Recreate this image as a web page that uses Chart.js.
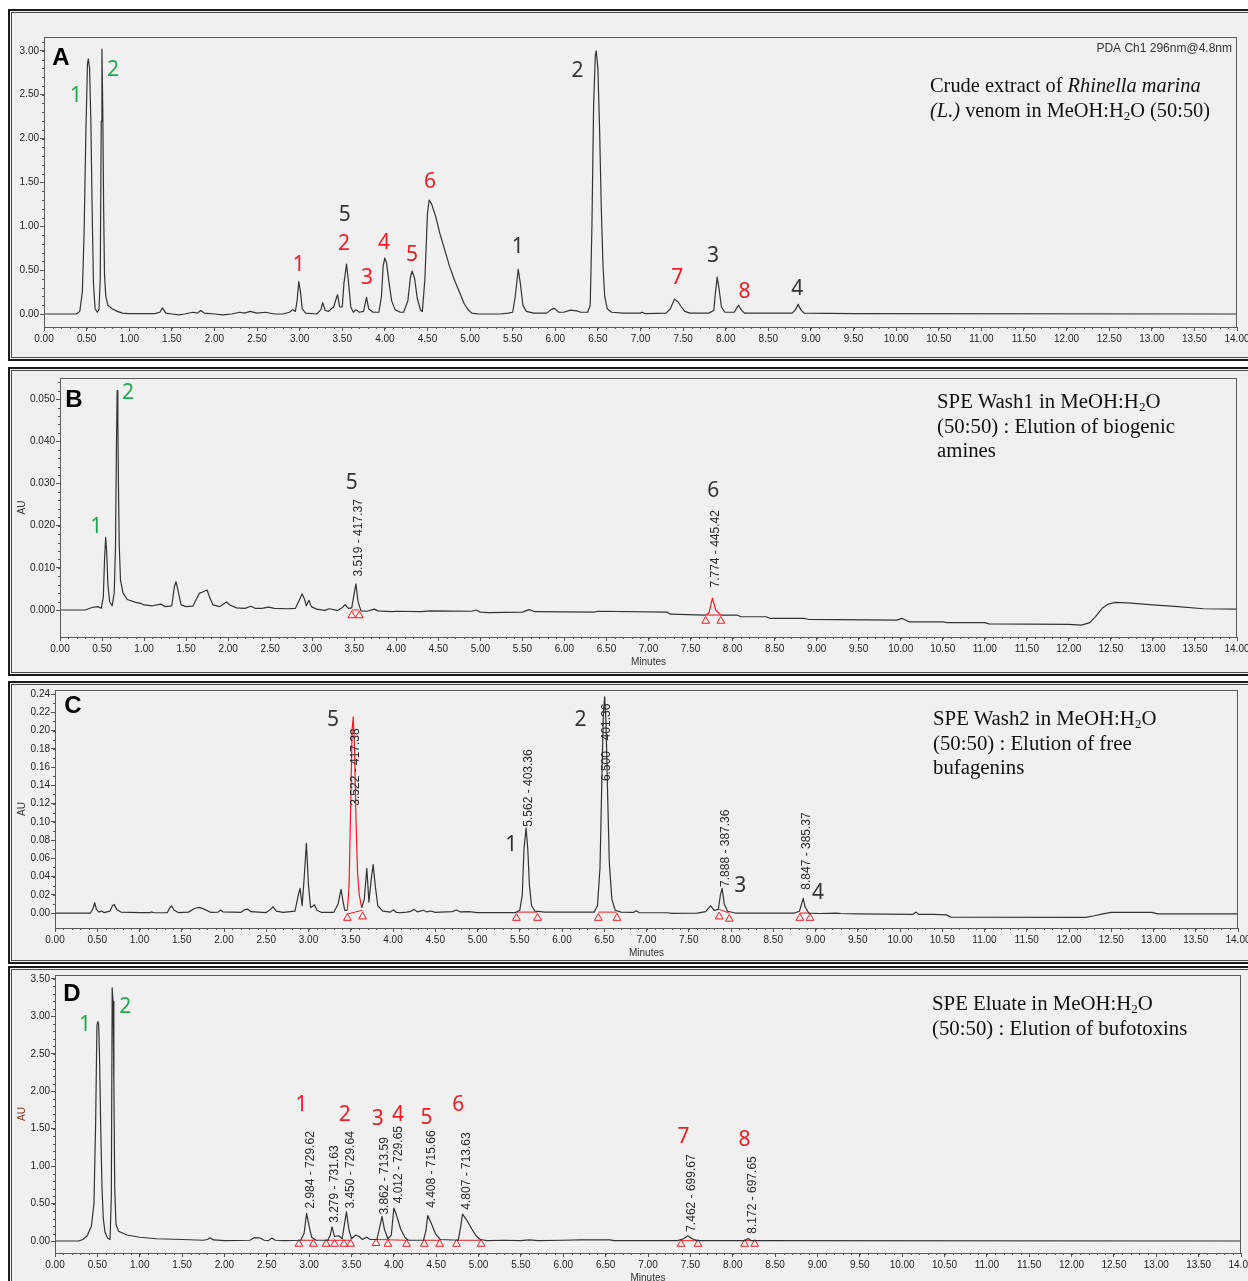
<!DOCTYPE html>
<html>
<head>
<meta charset="utf-8">
<script src="https://cdn.jsdelivr.net/npm/chart.js@4.4.1/dist/chart.umd.min.js"></script>
<style>
  body { margin: 0; background: #fff; width: 1248px; height: 1281px; overflow: hidden; position: relative; }
  .panel { position: absolute; left: 8px; width: 1252px; background: #f0f0f0; border: 2px solid #1a1a1a;
           box-shadow: inset 0 0 0 1px #f0f0f0, inset 0 0 0 2px #4a4a4a; box-sizing: border-box; }
  canvas { position: absolute; left: 0; }
  .note { position: absolute; font-family: 'Liberation Serif', 'Times New Roman', serif; font-size: 20.8px;
          line-height: 24.5px; color: #111; white-space: nowrap; }
  .note sub { font-size: 13px; vertical-align: -3px; line-height: 0; }
</style>
</head>
<body>
<div class="panel" style="top:9px;height:352px"></div>
<div class="panel" style="top:367px;height:309px"></div>
<div class="panel" style="top:681px;height:283px"></div>
<div class="panel" style="top:966px;height:330px"></div>

<canvas id="chA" width="1248" height="362" style="top:0"></canvas>
<canvas id="chB" width="1248" height="312" style="top:365px"></canvas>
<canvas id="chC" width="1248" height="284" style="top:680px"></canvas>
<canvas id="chD" width="1248" height="316" style="top:965px"></canvas>

<div class="note" style="left:930px;top:73px;font-size:20.4px">Crude extract of <i>Rhinella marina</i><br><i>(L.)</i> venom in MeOH:H<sub>2</sub>O (50:50)</div>
<div class="note" style="left:937px;top:389px">SPE Wash1 in MeOH:H<sub>2</sub>O<br>(50:50) : Elution of biogenic<br>amines</div>
<div class="note" style="left:933px;top:706px">SPE Wash2 in MeOH:H<sub>2</sub>O<br>(50:50) : Elution of free<br>bufagenins</div>
<div class="note" style="left:932px;top:991px">SPE Eluate in MeOH:H<sub>2</sub>O<br>(50:50) : Elution of bufotoxins</div>

<script>
// ---- colours / fonts ----
const RED = '#ee1c24', GREEN = '#1fa84f', INK = '#333';
const SANS = "'Liberation Sans', Arial, sans-serif";
const TAG_FONT = "21px 'Noto Sans', 'Open Sans', sans-serif";

// ---- tick labels ----
const xTickLabels = ['0.00','0.50','1.00','1.50','2.00','2.50','3.00','3.50','4.00','4.50','5.00','5.50','6.00','6.50',
  '7.00','7.50','8.00','8.50','9.00','9.50','10.00','10.50','11.00','11.50','12.00','12.50','13.00','13.50','14.00'];
const yTicksA = ['0.00','0.50','1.00','1.50','2.00','2.50','3.00'];
const yTicksB = ['0.000','0.010','0.020','0.030','0.040','0.050'];
const yTicksC = ['0.00','0.02','0.04','0.06','0.08','0.10','0.12','0.14','0.16','0.18','0.20','0.22','0.24'];
const yTicksD = ['0.00','0.50','1.00','1.50','2.00','2.50','3.00','3.50'];

// ---- traces: [minutes, AU] ----
const traceA = [[0,0],[0.38,0],[0.42,0.03],[0.45,0.25],[0.47,0.9],[0.49,2.0],[0.51,2.85],[0.52,2.91],[0.535,2.8],[0.55,2.2],
  [0.565,1.2],[0.58,0.35],[0.6,0.06],[0.625,0.02],[0.645,0.05],[0.66,0.4],[0.672,2.2],[0.68,3.02],[0.69,2.3],[0.7,1.2],
  [0.71,0.45],[0.725,0.2],[0.75,0.1],[0.8,0.06],[0.86,0.03],[0.92,0.01],[1,0.005],[1.3,0.005],[1.36,0.02],[1.39,0.07],
  [1.43,0.01],[1.5,0],[1.58,-0.01],[1.65,0],[1.75,0.02],[1.8,0.01],[1.84,0.04],[1.88,0.01],[2,0],[2.1,-0.01],[2.2,0],
  [2.3,0.02],[2.35,0.01],[2.42,0.03],[2.5,0.01],[2.6,0.02],[2.7,0],[2.8,0],[2.88,0.02],[2.92,0.05],[2.95,0.03],[2.97,0.15],
  [2.99,0.37],[3.01,0.25],[3.03,0.06],[3.07,0.01],[3.2,0],[3.25,0.05],[3.27,0.13],[3.3,0.04],[3.34,0.03],[3.37,0.06],
  [3.4,0.08],[3.43,0.18],[3.445,0.22],[3.47,0.08],[3.5,0.08],[3.52,0.35],[3.55,0.57],[3.575,0.35],[3.6,0.08],[3.63,0.02],
  [3.66,0.05],[3.7,0.02],[3.75,0.03],[3.785,0.19],[3.81,0.06],[3.86,0.02],[3.93,0.02],[3.96,0.2],[3.98,0.55],[4,0.64],
  [4.02,0.58],[4.05,0.35],[4.08,0.15],[4.12,0.05],[4.18,0.02],[4.22,0.02],[4.27,0.15],[4.3,0.42],[4.32,0.49],[4.35,0.4],
  [4.38,0.18],[4.42,0.04],[4.44,0.03],[4.47,0.4],[4.5,1.15],[4.52,1.3],[4.55,1.25],[4.6,1.1],[4.645,0.92],[4.7,0.74],
  [4.76,0.54],[4.82,0.38],[4.88,0.24],[4.93,0.12],[4.98,0.045],[5.02,0.01],[5.1,0],[5.35,0],[5.45,0.01],[5.5,0.02],
  [5.53,0.2],[5.565,0.51],[5.59,0.35],[5.62,0.1],[5.66,0.03],[5.75,0.01],[5.9,0.01],[5.95,0.05],[5.99,0.065],[6.04,0.02],
  [6.1,0.02],[6.18,0.045],[6.25,0.035],[6.3,0.02],[6.38,0.02],[6.41,0.1],[6.43,1.0],[6.45,2.4],[6.47,2.95],[6.48,3.0],
  [6.5,2.8],[6.52,2.1],[6.54,1.2],[6.56,0.55],[6.58,0.2],[6.61,0.06],[6.66,0.02],[6.8,0.01],[7,0.01],[7.02,0.02],
  [7.05,0.005],[7.3,0.01],[7.35,0.06],[7.4,0.17],[7.44,0.14],[7.48,0.08],[7.52,0.03],[7.58,0.01],[7.8,0.01],[7.86,0.04],
  [7.88,0.25],[7.9,0.42],[7.92,0.3],[7.95,0.08],[7.99,0.02],[8.1,0.02],[8.13,0.07],[8.15,0.1],[8.18,0.05],[8.22,0.01],
  [8.78,0.01],[8.82,0.05],[8.85,0.11],[8.88,0.05],[8.92,0.01],[9.5,0.005],[14,0]];

const traceB = [[0,0],[0.3,0],[0.38,0.0006],[0.45,0.0008],[0.49,0.0004],[0.515,0.003],[0.53,0.012],[0.543,0.0172],
  [0.555,0.014],[0.57,0.006],[0.59,0.002],[0.62,0.001],[0.645,0.004],[0.66,0.015],[0.672,0.04],[0.68,0.052],[0.688,0.045],
  [0.695,0.03],[0.705,0.015],[0.72,0.007],[0.75,0.004],[0.8,0.0025],[0.9,0.0018],[0.97,0.0015],[1,0.0012],[1.1,0.001],
  [1.2,0.0014],[1.25,0.0008],[1.33,0.001],[1.36,0.0055],[1.38,0.0067],[1.4,0.005],[1.44,0.0012],[1.5,0.0008],[1.58,0.0009],
  [1.62,0.0025],[1.66,0.004],[1.69,0.0042],[1.72,0.0045],[1.75,0.0047],[1.78,0.003],[1.82,0.0012],[1.9,0.0008],
  [1.95,0.0015],[1.98,0.0019],[2.02,0.0012],[2.1,0.0005],[2.2,0.0004],[2.27,0.0009],[2.32,0.0004],[2.4,0.0004],
  [2.48,0.0007],[2.55,0.0004],[2.7,0.0003],[2.8,0.0004],[2.85,0.0025],[2.88,0.0038],[2.91,0.0025],[2.93,0.001],
  [2.96,0.0023],[2.99,0.0008],[3.05,0.0002],[3.15,-0.0001],[3.2,0.0003],[3.3,-0.0001],[3.36,0.0006],[3.39,0.0013],
  [3.43,0.0004],[3.47,0.0005],[3.5,0.004],[3.52,0.0062],[3.545,0.002],[3.58,-0.0002],[3.65,-0.0003],[3.74,0.0002],
  [3.78,-0.0002],[3.95,-0.0004],[4,-0.0003],[4.3,-0.0004],[4.4,-0.0002],[4.9,-0.0003],[4.95,0],[5,-0.0005],[5.1,-0.0006],
  [5.5,-0.0005],[5.58,0.0001],[5.65,-0.0004],[6.35,-0.0005],[6.4,-0.0003],[7.22,-0.0005],[7.26,-0.001],[7.68,-0.0012],
  [7.72,-0.0007],[7.76,0.0028],[7.8,0],[7.86,-0.0012],[8.05,-0.0012],[8.1,-0.0016],[8.4,-0.0016],[8.45,-0.002],
  [8.85,-0.002],[8.9,-0.0022],[9.95,-0.0024],[10.02,-0.002],[10.1,-0.0028],[10.5,-0.0028],[10.55,-0.003],[11,-0.003],
  [11.05,-0.0033],[12,-0.0034],[12.15,-0.0036],[12.25,-0.003],[12.32,-0.0015],[12.4,0.0005],[12.47,0.0014],[12.55,0.0018],
  [12.7,0.0017],[13,0.0012],[13.3,0.0008],[13.6,0.0003],[14,0.0002]];

const traceC = [[0,0],[0.42,0],[0.45,0.005],[0.47,0.0113],[0.49,0.004],[0.52,0.001],[0.55,0.0022],[0.58,0.0005],
  [0.65,0.002],[0.68,0.008],[0.7,0.0095],[0.73,0.004],[0.78,0.001],[1,0.0005],[1.12,0.0005],[1.14,0.0012],[1.17,0.0003],
  [1.33,0.0005],[1.36,0.006],[1.38,0.0077],[1.41,0.003],[1.46,0.0005],[1.58,0.001],[1.65,0.005],[1.71,0.0062],[1.77,0.004],
  [1.84,0.0008],[1.93,0.001],[1.96,0.0033],[1.99,0.0012],[2.2,0.0008],[2.25,0.0038],[2.28,0.0042],[2.32,0.0015],
  [2.5,0.0005],[2.55,0.004],[2.58,0.0069],[2.62,0.002],[2.7,0.0008],[2.84,0.002],[2.88,0.02],[2.9,0.027],[2.925,0.008],
  [2.95,0.04],[2.975,0.0764],[3,0.03],[3.025,0.006],[3.05,0.0075],[3.07,0.009],[3.1,0.003],[3.15,0.0008],[3.3,0.0008],
  [3.35,0.01],[3.385,0.026],[3.41,0.012],[3.43,0.003],[3.46,0.003],[3.48,0.03],[3.5,0.12],[3.515,0.2],[3.53,0.215],
  [3.545,0.18],[3.56,0.11],[3.58,0.045],[3.6,0.02],[3.63,0.006],[3.66,0.015],[3.69,0.049],[3.715,0.012],[3.74,0.035],
  [3.765,0.053],[3.79,0.03],[3.82,0.008],[3.88,0.002],[3.97,0.001],[4,0.0035],[4.04,0.0008],[4.1,0.0005],[4.16,0.001],
  [4.2,0.0015],[4.25,0.004],[4.29,0.0012],[4.36,0.003],[4.4,0.0012],[4.45,0.0022],[4.5,0.0008],[4.7,0.0015],[4.75,0.0034],
  [4.8,0.0012],[4.9,0.0015],[5,0.0005],[5.45,0.0005],[5.5,0.003],[5.53,0.02],[5.55,0.07],[5.575,0.093],[5.595,0.07],
  [5.615,0.03],[5.64,0.008],[5.68,0.002],[5.8,0.001],[6.38,0.001],[6.42,0.008],[6.45,0.05],[6.47,0.14],[6.49,0.22],
  [6.505,0.237],[6.52,0.21],[6.54,0.13],[6.56,0.055],[6.59,0.015],[6.63,0.003],[6.7,0.001],[6.85,0.0008],[6.88,0.0025],
  [6.91,0.0005],[7.25,0.0003],[7.3,-0.0003],[7.6,0],[7.7,0.0015],[7.76,0.008],[7.8,0.003],[7.85,0.004],[7.875,0.02],
  [7.895,0.027],[7.92,0.01],[7.96,0.002],[8.05,0],[8.75,0],[8.81,0.002],[8.835,0.01],[8.855,0.016],[8.875,0.007],[8.92,0],
  [9.05,-0.0005],[9.25,0],[9.3,-0.0005],[9.5,-0.001],[10.15,-0.0015],[10.19,0.001],[10.22,-0.0015],[10.4,-0.0015],
  [10.55,-0.002],[10.6,-0.0045],[12.2,-0.0047],[12.3,-0.003],[12.4,-0.001],[12.5,0.0008],[12.98,0.0008],[13.05,-0.001],
  [14,-0.001]];

const traceD = [[0,0],[0.28,0],[0.33,0.02],[0.38,0.07],[0.43,0.2],[0.46,0.5],[0.48,1.6],[0.495,2.88],[0.505,2.93],
  [0.515,2.9],[0.525,2.5],[0.54,1.5],[0.555,0.7],[0.57,0.3],[0.59,0.12],[0.62,0.04],[0.65,0.02],[0.665,0.6],[0.675,3.38],
  [0.685,3.2],[0.695,2.1],[0.705,0.7],[0.72,0.22],[0.75,0.13],[0.85,0.08],[1,0.05],[1.2,0.03],[1.5,0.02],[1.75,0.01],
  [1.8,0.02],[1.83,0.045],[1.87,0.015],[2,0.005],[2.3,0.01],[2.35,0.045],[2.42,0.04],[2.47,0.01],[2.52,0.005],[2.56,0.04],
  [2.6,0.01],[2.7,0.005],[2.9,0.01],[2.94,0.1],[2.97,0.37],[3,0.2],[3.03,0.05],[3.08,0.01],[3.22,0.01],[3.25,0.08],
  [3.27,0.19],[3.3,0.06],[3.35,0.07],[3.39,0.03],[3.42,0.25],[3.44,0.39],[3.47,0.15],[3.5,0.03],[3.55,0.08],[3.59,0.06],
  [3.63,0.02],[3.68,0.05],[3.72,0.02],[3.8,0.02],[3.84,0.22],[3.86,0.33],[3.89,0.15],[3.93,0.03],[3.97,0.08],[4,0.44],
  [4.03,0.35],[4.08,0.16],[4.13,0.05],[4.17,0.01],[4.35,0.01],[4.38,0.15],[4.4,0.34],[4.44,0.24],[4.49,0.1],[4.55,0.02],
  [4.76,0.01],[4.79,0.2],[4.81,0.36],[4.86,0.28],[4.92,0.16],[4.97,0.07],[5.02,0.02],[5.1,0.005],[5.3,0.01],[5.5,0.005],
  [5.6,0.015],[5.7,0.005],[6,0.01],[6.2,0.015],[6.45,0.015],[6.55,0.015],[6.6,0.005],[7.35,0.005],[7.42,0.03],[7.47,0.07],
  [7.52,0.03],[7.58,0.005],[8.14,0.005],[8.18,0.035],[8.22,0.005],[14,0]];

// ---- integration marks (red triangles and baselines) ----
const triB = [[3.47,-0.0013],[3.56,-0.0013],[7.68,-0.0026],[7.86,-0.0026]];
const triC = [[3.46,-0.0055],[3.64,-0.004],[5.46,-0.0055],[5.71,-0.0055],[6.43,-0.0055],[6.65,-0.0055],
  [7.86,-0.004],[7.98,-0.0065],[8.815,-0.0055],[8.935,-0.0055]];
const triD = [[2.88,-0.04],[3.05,-0.04],[3.2,-0.04],[3.3,-0.04],[3.41,-0.04],[3.49,-0.04],[3.79,-0.03],[3.93,-0.04],
  [4.15,-0.04],[4.36,-0.04],[4.54,-0.04],[4.74,-0.04],[5.03,-0.04],[7.39,-0.04],[7.59,-0.04],[8.14,-0.04],[8.26,-0.04]];
const intB = [[[3.47,0],[3.56,0]],[[7.68,-0.0012],[7.86,-0.0012]]];
const intC = [[[3.46,-0.001],[3.64,0.003]],[[5.46,0.001],[5.71,0.001]],[[6.43,0.001],[6.65,0.001]],
  [[7.86,0.004],[7.98,0]],[[8.815,0],[8.935,0]]];
const intD = [[[2.88,0.01],[3.05,0.01]],[[3.2,0.01],[3.49,0.01]],[[3.79,0.02],[4.15,0.01]],[[4.36,0.01],[4.54,0.01]],
  [[4.74,0.01],[5.03,0.01]],[[7.39,0.005],[7.59,0.005]],[[8.14,0.005],[8.26,0.005]]];

// ---- peak numbers [min, AU, text, colour] ----
const tagsA = [[0.375,2.49,'1',GREEN],[0.81,2.78,'2',GREEN],[2.99,0.56,'1',RED],[3.53,1.13,'5',INK],[3.52,0.8,'2',RED],
  [3.79,0.41,'3',RED],[3.99,0.81,'4',RED],[4.32,0.67,'5',RED],[4.53,1.51,'6',RED],[5.56,0.76,'1',INK],[6.26,2.77,'2',INK],
  [7.43,0.41,'7',RED],[7.85,0.66,'3',INK],[8.22,0.25,'8',RED],[8.84,0.285,'4',INK]];
const tagsB = [[0.43,0.0197,'1',GREEN],[0.81,0.0514,'2',GREEN],[3.47,0.0301,'5',INK],[7.77,0.0282,'6',INK]];
const tagsC = [[3.29,0.2115,'5',INK],[5.4,0.074,'1',INK],[6.22,0.2115,'2',INK],[8.11,0.0296,'3',INK],[9.03,0.0219,'4',INK]];
const tagsD = [[0.355,2.885,'1',GREEN],[0.83,3.126,'2',GREEN],[2.91,1.816,'1',RED],[3.42,1.68,'2',RED],[3.81,1.63,'3',RED],
  [4.05,1.68,'4',RED],[4.385,1.643,'5',RED],[4.76,1.816,'6',RED],[7.42,1.39,'7',RED],[8.14,1.35,'8',RED]];

// ---- retention time / mass labels (vertical) ----
const rotB = [[3.51,0.0171,'3.519 - 417.37'],[7.755,0.0145,'7.774 - 445.42']];
const rotC = [[3.515,0.16,'3.522 - 417.38'],[5.56,0.137,'5.562 - 403.36'],[6.485,0.187,'6.500 - 401.36'],
  [7.89,0.071,'7.888 - 387.36'],[8.85,0.068,'8.847 - 385.37']];
const rotD = [[2.97,0.95,'2.984 - 729.62'],[3.26,0.76,'3.279 - 731.63'],[3.44,0.95,'3.450 - 729.64'],
  [3.85,0.87,'3.862 - 713.59'],[4.01,1.02,'4.012 - 729.65'],[4.4,0.96,'4.408 - 715.66'],[4.81,0.935,'4.807 - 713.63'],
  [7.47,0.64,'7.462 - 699.67'],[8.19,0.615,'8.172 - 697.65']];

function makeChart(id, p) {
  const pts = p.trace.map(([x, y]) => ({ x, y }));
  const tri = (p.tri || []).map(([x, y]) => ({ x, y }));
  const base = [];
  (p.ints || []).forEach(([a, b]) => base.push({ x: a[0], y: a[1] }, { x: b[0], y: b[1] }, { x: b[0], y: null }));

  const decor = {
    id: 'decor' + id,
    afterDraw(chart) {
      const { ctx, chartArea: a, scales: { x, y } } = chart;
      ctx.save();
      ctx.strokeStyle = '#5a5a5a';
      ctx.lineWidth = 1;
      ctx.strokeRect(a.left + 0.5, a.top + 0.5, a.right - a.left - 1, a.bottom - a.top);

      // minor ticks
      ctx.strokeStyle = '#555';
      ctx.beginPath();
      for (let k = 0; k <= 140; k++) {
        const px = Math.round(x.getPixelForValue(k / 10)) + 0.5;
        ctx.moveTo(px, a.bottom); ctx.lineTo(px, a.bottom + 2);
      }
      for (let v = 0; v <= p.yMax; v += p.minorY) {
        const py = Math.round(y.getPixelForValue(v)) + 0.5;
        ctx.moveTo(a.left, py); ctx.lineTo(a.left - 2, py);
      }
      ctx.stroke();

      // panel letter
      ctx.fillStyle = '#000';
      ctx.font = 'bold 24px ' + SANS;
      ctx.textAlign = 'center'; ctx.textBaseline = 'middle';
      ctx.fillText(p.letter, a.left + p.letterDx, a.top + p.letterDy);

      // peak numbers
      ctx.font = TAG_FONT;
      p.tags.forEach(([t, v, s, c]) => {
        ctx.fillStyle = c;
        ctx.fillText(s, x.getPixelForValue(t), y.getPixelForValue(v));
      });

      // vertical labels
      ctx.font = '12px ' + SANS;
      ctx.fillStyle = '#2a2a2a';
      (p.rot || []).forEach(([t, v, s]) => {
        ctx.save();
        ctx.translate(x.getPixelForValue(t) + 4, y.getPixelForValue(v));
        ctx.rotate(-Math.PI / 2);
        ctx.fillText(s, 0, 0);
        ctx.restore();
      });

      // axis titles
      ctx.font = '10px ' + SANS;
      if (p.au) {
        ctx.fillStyle = p.auColor || '#333';
        ctx.save();
        ctx.translate(22, (a.top + a.bottom) / 2);
        ctx.rotate(-Math.PI / 2);
        ctx.fillText('AU', 0, 0);
        ctx.restore();
        ctx.fillStyle = '#333';
        ctx.fillText('Minutes', (a.left + a.right) / 2, a.bottom + 25);
      }
      if (p.pda) {
        ctx.font = '12px ' + SANS;
        ctx.fillStyle = '#333';
        ctx.textAlign = 'right';
        ctx.fillText(p.pda, a.right - 5, a.top + 12);
      }
      ctx.restore();
    }
  };

  const tickFont = { family: SANS, size: 10 };
  new Chart(document.getElementById(id), {
    type: 'line',
    data: {
      datasets: [
        {
          data: pts, borderColor: INK, borderWidth: 1.2, pointRadius: 0, tension: 0, borderJoinStyle: 'round',
          segment: {
            borderColor: c => (p.red && c.p0.parsed.x >= p.red[0] && c.p1.parsed.x <= p.red[1]) ? RED : undefined
          }
        },
        { data: base, borderColor: RED, borderWidth: 1, pointRadius: 0, spanGaps: false },
        {
          data: tri, showLine: false, pointStyle: 'triangle', pointRadius: 4.5, borderColor: RED, borderWidth: 1,
          backgroundColor: 'rgba(0,0,0,0)'
        }
      ]
    },
    options: {
      responsive: false, animation: false, devicePixelRatio: 1, events: [],
      layout: { padding: { top: p.top, right: p.right, left: 0, bottom: 0 } },
      plugins: { legend: { display: false }, tooltip: { enabled: false } },
      scales: {
        x: {
          type: 'linear', min: 0, max: 14,
          afterBuildTicks: s => { s.ticks = xTickLabels.map(l => ({ value: parseFloat(l) })); },
          afterFit: s => { s.height = p.xh; s.paddingLeft = 0; s.paddingRight = 0; },
          ticks: { callback: (v, i) => xTickLabels[i], autoSkip: false, maxRotation: 0, minRotation: 0,
                   padding: 2, color: '#222', font: tickFont },
          grid: { drawOnChartArea: false, tickLength: 4, color: '#555' },
          border: { color: '#555' }
        },
        y: {
          type: 'linear', min: p.yMin, max: p.yMax,
          afterBuildTicks: s => { s.ticks = p.yTicks.map(l => ({ value: parseFloat(l) })); },
          afterFit: s => { s.width = p.yw; s.paddingTop = 0; s.paddingBottom = 0; },
          ticks: { callback: (v, i) => p.yTicks[i], autoSkip: false, padding: 1, color: '#222', font: tickFont },
          grid: { drawOnChartArea: false, tickLength: 4, color: '#555' },
          border: { color: '#555' }
        }
      }
    },
    plugins: [decor]
  });
}

makeChart('chA', { trace: traceA, yTicks: yTicksA, yMin: -0.148, yMax: 3.158, minorY: 0.1,
  top: 37, right: 11, yw: 44, xh: 35, letter: 'A', letterDx: 17, letterDy: 21,
  tags: tagsA, pda: 'PDA Ch1 296nm@4.8nm' });
makeChart('chB', { trace: traceB, yTicks: yTicksB, yMin: -0.0064, yMax: 0.055, minorY: 0.002,
  top: 13, right: 11, yw: 60, xh: 40, letter: 'B', letterDx: 14, letterDy: 22,
  tags: tagsB, rot: rotB, tri: triB, ints: intB, red: [7.68, 7.86], au: true });
makeChart('chC', { trace: traceC, yTicks: yTicksC, yMin: -0.0164, yMax: 0.2444, minorY: 0.01,
  top: 10, right: 10, yw: 55, xh: 36, letter: 'C', letterDx: 18, letterDy: 16,
  tags: tagsC, rot: rotC, tri: triC, ints: intC, red: [3.46, 3.64], au: true });
makeChart('chD', { trace: traceD, yTicks: yTicksD, yMin: -0.16, yMax: 3.553, minorY: 0.1,
  top: 10, right: 7, yw: 55, xh: 28, letter: 'D', letterDx: 17, letterDy: 19,
  tags: tagsD, rot: rotD, tri: triD, ints: intD, au: true, auColor: '#7a3b2b' });
</script>
</body>
</html>
